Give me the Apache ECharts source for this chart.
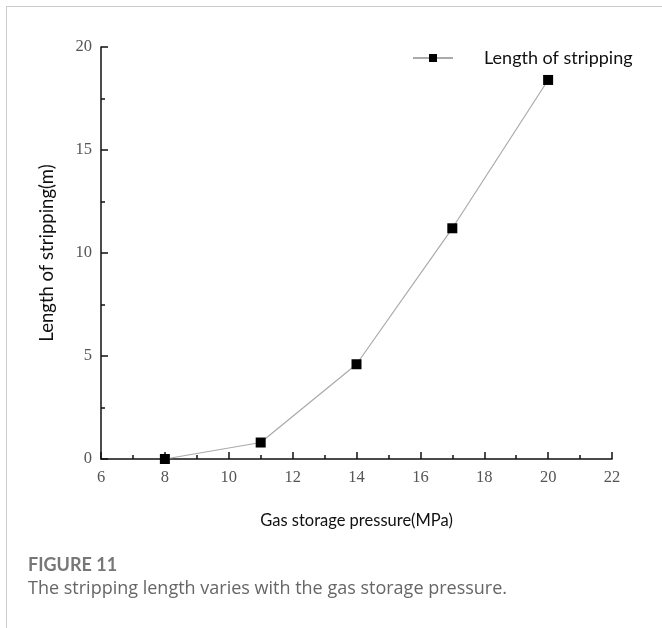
<!DOCTYPE html>
<html>
<head>
<meta charset="utf-8">
<script src="https://cdn.jsdelivr.net/npm/echarts@6/dist/echarts.min.js"></script>
<style>html,body{margin:0;padding:0;background:#fff;}#c{width:662px;height:628px;}</style>
</head>
<body>
<div id="c"></div>
<script>
const seriesName = 'Length of stripping';
const pressure = [8, 11, 14, 17, 20];
const stripLength = [0, 0.8, 4.6, 11.2, 18.4];
const xAxisTitle = 'Gas storage pressure(MPa)';
const yAxisTitle = 'Length of stripping(m)';
const figLabel = 'FIGURE 11';
const figCaption = 'The stripping length varies with the gas storage pressure.';

const chart = echarts.init(document.getElementById('c'), null, {renderer: 'canvas'});
const data = pressure.map((p, i) => [p, stripLength[i]]);
const tickFont = {fontFamily: 'Liberation Serif', fontSize: 16.5, color: '#555'};
chart.setOption({
  animation: false,
  backgroundColor: '#fff',
  grid: {left: 101, right: 50, top: 47, bottom: 169, containLabel: false},
  legend: {
    data: [seriesName],
    left: 407, top: 44,
    itemWidth: 40, itemHeight: 10,
    textStyle: {fontFamily: 'Lato', fontSize: 18, color: '#111', padding: [0, 0, 0, 26]}
  },
  xAxis: {
    type: 'value', min: 6, max: 22, interval: 2,
    name: xAxisTitle, nameLocation: 'middle', nameGap: 53,
    nameTextStyle: {fontFamily: 'Lato', fontSize: 16.5, color: '#111'},
    axisLine: {show: true, onZero: false, lineStyle: {color: '#111', width: 1.5}},
    axisTick: {show: true, inside: true, length: 7, lineStyle: {color: '#111', width: 1.5}},
    minorTick: {show: true, splitNumber: 2, length: 4, lineStyle: {color: '#111', width: 1.5}},
    axisLabel: Object.assign({margin: 10}, tickFont),
    splitLine: {show: false}
  },
  yAxis: {
    type: 'value', min: 0, max: 20, interval: 5,
    name: yAxisTitle, nameLocation: 'middle', nameGap: 44,
    nameTextStyle: {fontFamily: 'Lato', fontSize: 18.5, color: '#111'},
    axisLine: {show: true, lineStyle: {color: '#111', width: 1.5}},
    axisTick: {show: true, inside: true, length: 7, lineStyle: {color: '#111', width: 1.5}},
    minorTick: {show: true, splitNumber: 2, length: 4, lineStyle: {color: '#111', width: 1.5}},
    axisLabel: Object.assign({margin: 9}, tickFont),
    splitLine: {show: false}
  },
  series: [{
    name: seriesName, type: 'line', data: data,
    symbol: 'rect', symbolSize: 10,
    itemStyle: {color: '#000'},
    lineStyle: {color: '#aaa', width: 1.2}
  }],
  graphic: [
    {type: 'line', shape: {x1: 6.5, y1: 6, x2: 6.5, y2: 628}, style: {stroke: '#ccc', lineWidth: 1}},
    {type: 'line', shape: {x1: 6, y1: 6.5, x2: 662, y2: 6.5}, style: {stroke: '#ccc', lineWidth: 1}},
    {type: 'text', left: 28, top: 556, style: {text: figLabel, font: 'bold 18px "Lato"', fill: '#777'}},
    {type: 'text', left: 28, top: 580, style: {text: figCaption, font: '18px "Open Sans"', fill: '#666'}}
  ]
});
</script>
</body>
</html>
